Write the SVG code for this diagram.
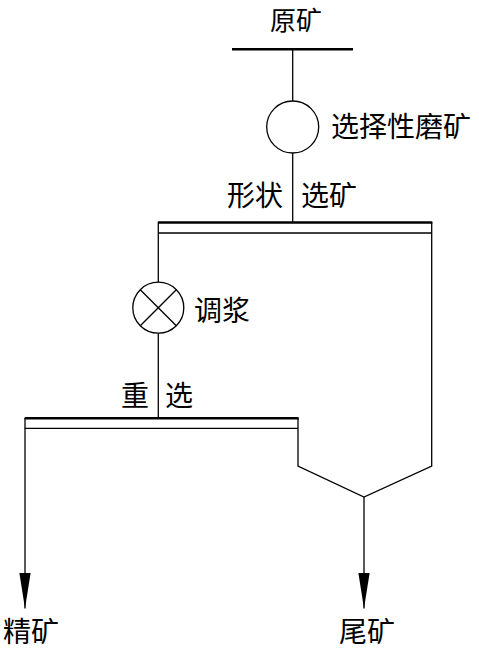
<svg xmlns="http://www.w3.org/2000/svg" width="479" height="649" viewBox="0 0 479 649">
<style>
.t{font-family:"Noto Sans CJK SC","Noto Sans CJK JP",sans-serif;font-size:28px;fill:#000}
.ln{stroke:#000;stroke-width:1.3;fill:none}
.bar{stroke:#000;stroke-width:2.6;fill:none}
</style>
<defs>
<marker id="ah" markerUnits="userSpaceOnUse" viewBox="0 -6 37 12" refX="36" refY="0" markerWidth="37" markerHeight="12" orient="auto">
<path d="M0,-5.7 L36,0 L0,5.7 Z" fill="#000"/>
</marker>
</defs>
<g id="connectors">
<line class="ln" x1="292.7" y1="49" x2="292.7" y2="101"/>
<line class="ln" x1="292.7" y1="153" x2="292.7" y2="222"/>
<line class="ln" x1="158.3" y1="222" x2="158.3" y2="282"/>
<line class="ln" x1="158.3" y1="333.5" x2="158.3" y2="418"/>
<polyline class="ln" points="298,418 298,466 364,497 431.7,466 431.7,222"/>
<line class="ln" x1="25" y1="418" x2="25" y2="608.5" marker-end="url(#ah)"/>
<line class="ln" x1="364" y1="497" x2="364" y2="608.5" marker-end="url(#ah)"/>
</g>
<g id="feed">
<line class="bar" x1="232" y1="49.3" x2="353" y2="49.3"/>
<text class="t" x="270" y="30" style="font-size:26px">原矿</text>
</g>
<g id="grinding">
<circle class="ln" cx="292.7" cy="127" r="26"/>
<text class="t" x="331" y="136.5">选择性磨矿</text>
</g>
<g id="shape-separation">
<line class="bar" x1="158" y1="222.5" x2="432.3" y2="222.5"/>
<line class="ln" x1="158" y1="233" x2="431.7" y2="233"/>
<text class="t" x="227" y="205.5">形状</text>
<text class="t" x="301" y="205.5">选矿</text>
</g>
<g id="conditioning">
<circle class="ln" cx="158.3" cy="307.7" r="25.5"/>
<line class="ln" x1="140.3" y1="289.7" x2="176.3" y2="325.7"/>
<line class="ln" x1="176.3" y1="289.7" x2="140.3" y2="325.7"/>
<text class="t" x="194" y="320.5">调浆</text>
</g>
<g id="gravity">
<line class="bar" x1="24.7" y1="418.3" x2="298.6" y2="418.3"/>
<line class="ln" x1="24.7" y1="428.3" x2="298" y2="428.3"/>
<text class="t" x="121" y="405.5">重</text>
<text class="t" x="165" y="405.5">选</text>
</g>
<g id="concentrate">
<text class="t" x="3" y="641.5">精矿</text>
</g>
<g id="tailings">
<text class="t" x="339" y="641.5">尾矿</text>
</g>
</svg>
